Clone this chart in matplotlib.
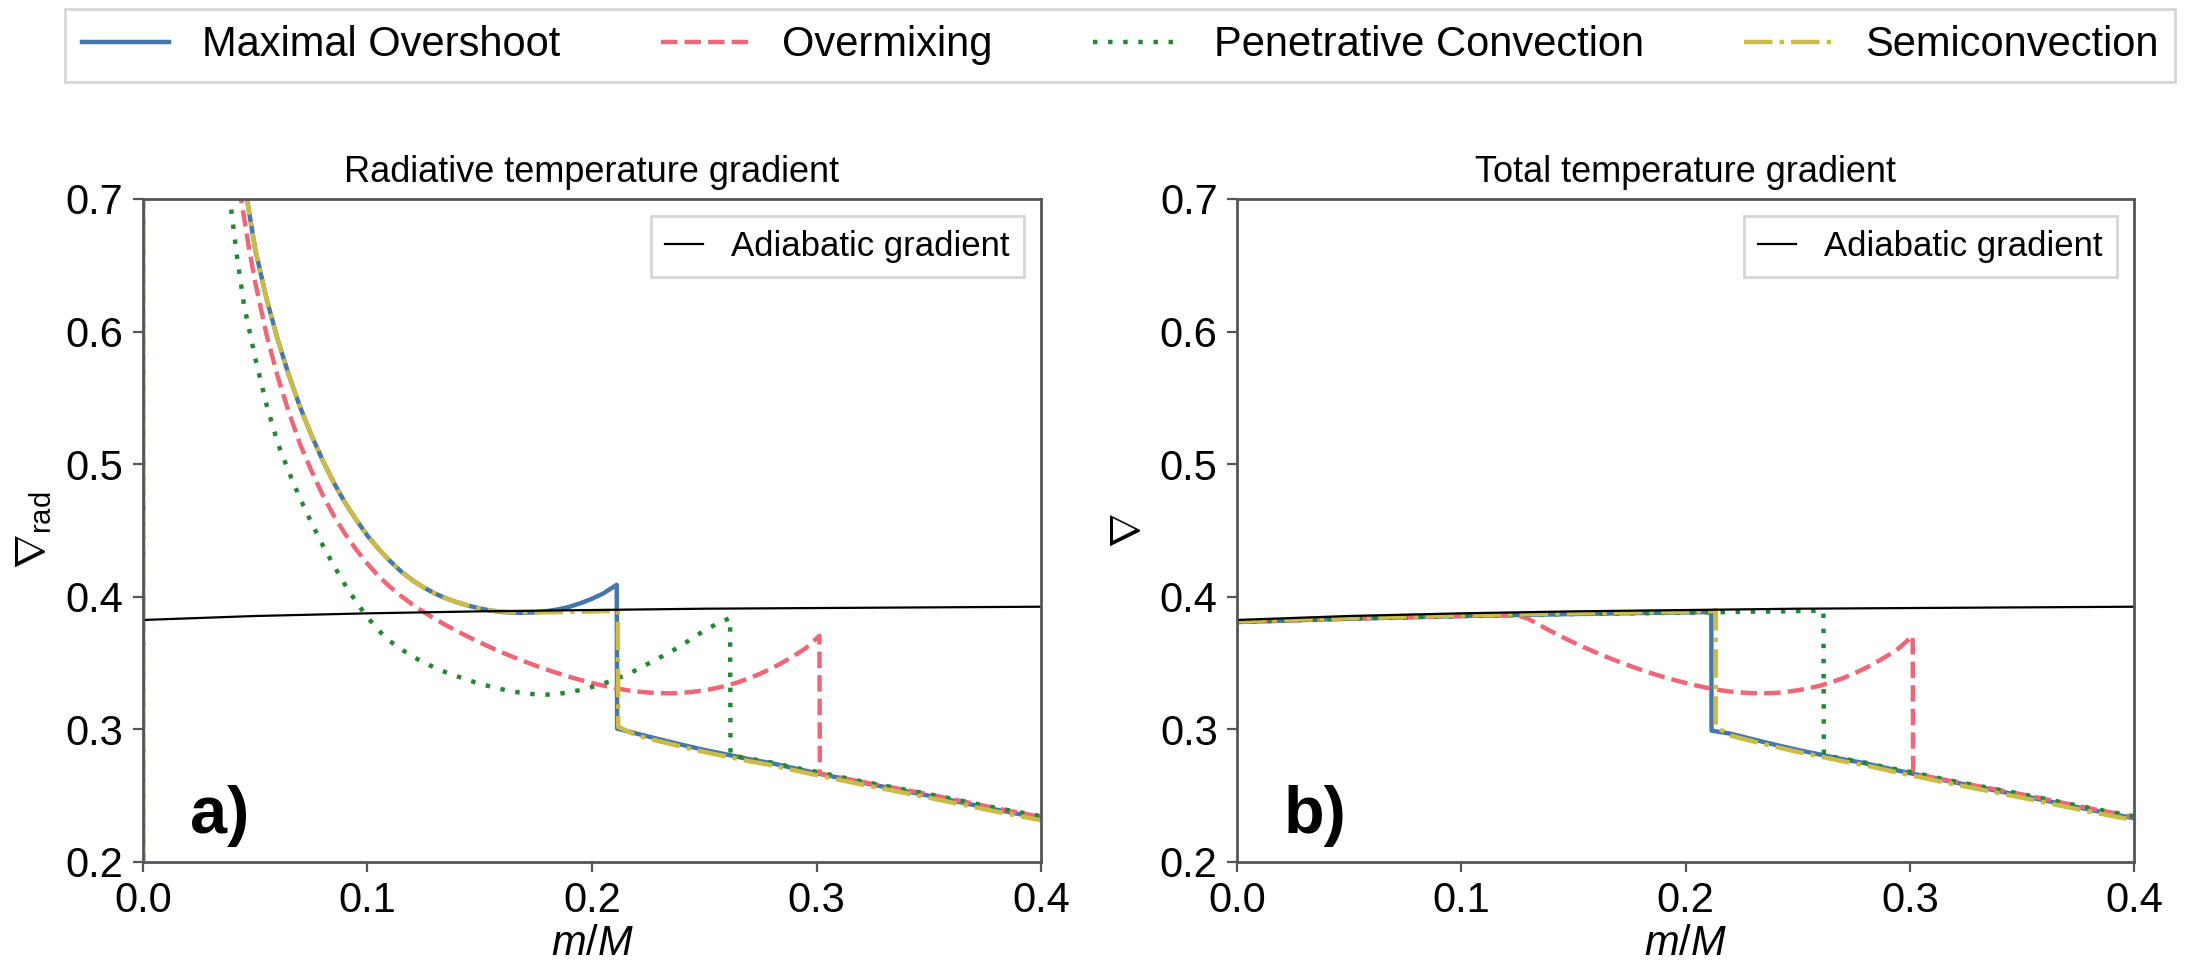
import numpy as np
import matplotlib
matplotlib.use("Agg")
import matplotlib.pyplot as plt

plt.rcParams['font.family'] = ['Liberation Sans', 'DejaVu Sans']
plt.rcParams['mathtext.fontset'] = 'custom'
plt.rcParams['mathtext.rm'] = 'Liberation Sans'
plt.rcParams['mathtext.it'] = 'Liberation Sans:italic'

#%% Data: mass coordinate m/M and temperature gradients
# adiabatic gradient (same in both panels)
ad_x = [0.0, 0.05, 0.10, 0.15, 0.20, 0.25, 0.30, 0.35, 0.40]
ad_y = [0.3825, 0.3855, 0.3875, 0.389, 0.390, 0.391, 0.3915, 0.392, 0.3925]

# lower branch below the convective boundary, shared by all models
low_x = [0.22, 0.23, 0.24, 0.25, 0.2615, 0.27, 0.28, 0.29, 0.30, 0.32, 0.35, 0.38, 0.40]
low_y = [0.2968, 0.2925, 0.2884, 0.2845, 0.2805, 0.2775, 0.2745, 0.2707, 0.2670, 0.2600, 0.2500, 0.2395, 0.2330]

# a) radiative gradient
rad_max_x = [0.0, 0.0, 0.03, 0.0463, 0.050, 0.055, 0.060, 0.065, 0.070, 0.075, 0.080, 0.085,
             0.090, 0.095, 0.100, 0.105, 0.110, 0.115, 0.120, 0.125, 0.130, 0.135, 0.140,
             0.145, 0.150, 0.155, 0.160, 0.165, 0.170, 0.175, 0.180, 0.185, 0.190, 0.195,
             0.200, 0.205, 0.211, 0.2112] + low_x
rad_max_y = [0.0, 3.0, 1.0, 0.700, 0.662, 0.625, 0.594, 0.567, 0.543, 0.522, 0.503, 0.486,
             0.471, 0.458, 0.446, 0.436, 0.427, 0.419, 0.4125, 0.407, 0.4025, 0.3988, 0.3958,
             0.3933, 0.3912, 0.3896, 0.3885, 0.388, 0.3879, 0.3883, 0.3892, 0.3905, 0.3925, 0.3952,
             0.3985, 0.4025, 0.409, 0.3006] + low_y

rad_om_x = [0.0, 0.0, 0.03, 0.0437, 0.047, 0.050, 0.055, 0.060, 0.065, 0.070, 0.075, 0.080,
            0.085, 0.090, 0.095, 0.100, 0.105, 0.110, 0.115, 0.120, 0.125, 0.130, 0.135,
            0.140, 0.145, 0.150, 0.155, 0.160, 0.165, 0.170, 0.175, 0.180, 0.185, 0.190,
            0.195, 0.200, 0.205, 0.210, 0.215, 0.220, 0.225, 0.230, 0.235, 0.240, 0.245,
            0.250, 0.255, 0.260, 0.265, 0.270, 0.275, 0.280, 0.285, 0.290, 0.295, 0.3013,
            0.3015, 0.32, 0.35, 0.38, 0.40]
rad_om_y = [0.0, 3.0, 1.0, 0.700, 0.665, 0.637, 0.598, 0.566, 0.539, 0.515, 0.495, 0.477,
            0.461, 0.4475, 0.4355, 0.4248, 0.4155, 0.4075, 0.4005, 0.3942, 0.3885, 0.3833, 0.3785,
            0.374, 0.3697, 0.3656, 0.3617, 0.358, 0.3545, 0.3512, 0.348, 0.345, 0.3422, 0.3396,
            0.3372, 0.335, 0.333, 0.3312, 0.3297, 0.3285, 0.3278, 0.3273, 0.3272, 0.3275, 0.3283,
            0.3295, 0.331, 0.333, 0.3355, 0.3385, 0.342, 0.346, 0.3505, 0.3555, 0.361, 0.3705,
            0.2667, 0.2605, 0.2510, 0.2405, 0.2340]

rad_pc_x = [0.0, 0.0, 0.03, 0.0387, 0.042, 0.045, 0.050, 0.055, 0.060, 0.065, 0.070, 0.075,
            0.080, 0.085, 0.090, 0.095, 0.100, 0.105, 0.110, 0.115, 0.120, 0.125, 0.130,
            0.135, 0.140, 0.145, 0.150, 0.155, 0.160, 0.165, 0.170, 0.175, 0.180, 0.185,
            0.190, 0.195, 0.200, 0.205, 0.210, 0.215, 0.220, 0.225, 0.230, 0.235, 0.240,
            0.245, 0.250, 0.255, 0.2615, 0.2617, 0.27, 0.28, 0.29, 0.30, 0.32, 0.35, 0.38, 0.40]
rad_pc_y = [0.0, 3.0, 0.85, 0.700, 0.655, 0.620, 0.580, 0.545, 0.516, 0.494, 0.474, 0.456,
            0.439, 0.4235, 0.409, 0.396, 0.3845, 0.3745, 0.3665, 0.3605, 0.355, 0.3505, 0.3465,
            0.343, 0.340, 0.337, 0.3345, 0.3322, 0.3302, 0.3285, 0.3272, 0.3264, 0.3262, 0.3268,
            0.328, 0.3298, 0.332, 0.3345, 0.3375, 0.341, 0.345, 0.3495, 0.354, 0.3585, 0.3635,
            0.369, 0.3745, 0.379, 0.384, 0.2805, 0.2780, 0.2750, 0.2712, 0.2680, 0.2608, 0.2512,
            0.2408, 0.2345]

rad_sc_x = [0.0, 0.0, 0.03, 0.0463, 0.050, 0.055, 0.060, 0.065, 0.070, 0.075, 0.080, 0.085,
            0.090, 0.095, 0.100, 0.105, 0.110, 0.115, 0.120, 0.125, 0.130, 0.135, 0.140,
            0.145, 0.150, 0.155, 0.165, 0.18, 0.20, 0.2115, 0.2117] + low_x
rad_sc_y = [0.0, 3.0, 1.0, 0.700, 0.662, 0.625, 0.594, 0.567, 0.543, 0.522, 0.503, 0.486,
            0.471, 0.458, 0.446, 0.436, 0.427, 0.419, 0.4125, 0.407, 0.4025, 0.3988, 0.3958,
            0.3933, 0.3912, 0.3896, 0.3882, 0.3883, 0.3889, 0.3895, 0.302] + [v - 0.0015 for v in low_y]

# b) total gradient
tot_max_x = [0.0, 0.05, 0.10, 0.15, 0.2115, 0.2116] + low_x
tot_max_y = [0.381, 0.3835, 0.3855, 0.387, 0.3885, 0.299] + low_y

tot_om_x = [0.0, 0.05, 0.10, 0.125, 0.130, 0.135, 0.140, 0.145, 0.150, 0.155, 0.160, 0.165,
            0.170, 0.175, 0.180, 0.185, 0.190, 0.195, 0.200, 0.205, 0.210, 0.215, 0.220,
            0.225, 0.230, 0.235, 0.240, 0.245, 0.250, 0.255, 0.260, 0.265, 0.270, 0.275,
            0.280, 0.285, 0.290, 0.295, 0.3013, 0.3015, 0.32, 0.35, 0.38, 0.40]
tot_om_y = [0.381, 0.3835, 0.3855, 0.386, 0.3833, 0.3785, 0.374, 0.3697, 0.3656, 0.3617, 0.358, 0.3545,
            0.3512, 0.348, 0.345, 0.3422, 0.3396, 0.3372, 0.335, 0.333, 0.3312, 0.3297, 0.3285,
            0.3278, 0.3273, 0.3272, 0.3275, 0.3283, 0.3295, 0.331, 0.333, 0.3355, 0.3385, 0.342,
            0.346, 0.3505, 0.3555, 0.361, 0.3705, 0.2667, 0.2605, 0.2510, 0.2405, 0.2340]

tot_pc_x = [0.0, 0.05, 0.10, 0.15, 0.20, 0.2615, 0.2617, 0.27, 0.28, 0.29, 0.30, 0.32, 0.35, 0.38, 0.40]
tot_pc_y = [0.381, 0.3835, 0.3855, 0.387, 0.388, 0.3895, 0.2805, 0.2780, 0.2750, 0.2712, 0.2680,
            0.2608, 0.2512, 0.2408, 0.2345]

tot_sc_x = [0.0, 0.05, 0.10, 0.15, 0.2115, 0.2135, 0.2135] + low_x
tot_sc_y = [0.3815, 0.384, 0.386, 0.3875, 0.389, 0.390, 0.302] + [v - 0.0015 for v in low_y]

labels = ['Maximal Overshoot', 'Overmixing', 'Penetrative Convection', 'Semiconvection']
colors = ['#4477AA', '#EE6677', '#228833', '#CCBB44']
styles = ['-', '--', (0, (1, 2.4)), '-.']

#%% Plot
fig = plt.figure(figsize=(10.965, 4.815), dpi=200)
ax1 = fig.add_axes([0.0652, 0.1049, 0.4095, 0.6885])
ax2 = fig.add_axes([0.5641, 0.1049, 0.4090, 0.6885])

panels = [
    (ax1, [(rad_max_x, rad_max_y), (rad_om_x, rad_om_y), (rad_pc_x, rad_pc_y), (rad_sc_x, rad_sc_y)],
     'Radiative temperature gradient', r'$\nabla_{\rm rad}$', 'a)'),
    (ax2, [(tot_max_x, tot_max_y), (tot_om_x, tot_om_y), (tot_pc_x, tot_pc_y), (tot_sc_x, tot_sc_y)],
     'Total temperature gradient', r'$\nabla$', 'b)'),
]

handles = []
for ax, series, title, ylab, tag in panels:
    hs = []
    for (x, y), lab, c, ls in zip(series, labels, colors, styles):
        h, = ax.plot(x, y, color=c, ls=ls, lw=1.6, label=lab)
        hs.append(h)
    handles = hs
    ad, = ax.plot(ad_x, ad_y, color='black', lw=0.8, label='Adiabatic gradient')
    ax.legend(handles=[ad], loc='upper right', fontsize=12.5, fancybox=False,
              edgecolor='#cccccc', handlelength=1.1)
    ax.set_xlim(0, 0.4)
    ax.set_ylim(0.2, 0.7)
    ax.set_xticks([0.0, 0.1, 0.2, 0.3, 0.4])
    ax.set_yticks([0.2, 0.3, 0.4, 0.5, 0.6, 0.7])
    ax.tick_params(direction='out', length=3.5, width=0.8, color='#555555', labelsize=15)
    for sp in ax.spines.values():
        sp.set_color('#555555')
        sp.set_linewidth(1.0)
    ax.set_title(title, fontsize=13, pad=6)
    ax.set_xlabel(r'$m/M$', fontsize=15, labelpad=1)
    ax.set_ylabel(ylab, fontsize=15)
    ax.text(0.052, 0.044, tag, transform=ax.transAxes, fontsize=24, fontweight='bold')

fig.legend(handles=handles, loc='lower left', bbox_to_anchor=(0.0296, 0.915, 0.9624, 0.0775),
           mode='expand', ncol=4, fontsize=15, fancybox=False, edgecolor='#cccccc',
           borderaxespad=0, handlelength=2.1)

fig.savefig('out.png', dpi=200)
